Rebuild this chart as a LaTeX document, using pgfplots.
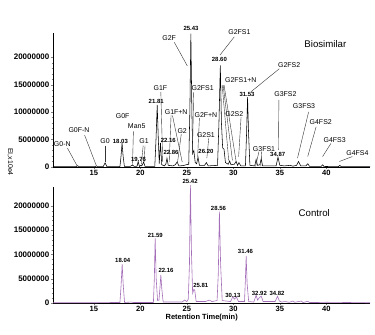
\documentclass[border=0pt]{standalone}
\usepackage{pgfplots}
\pgfplotsset{compat=1.18}
\usepackage{fontspec}
\setmainfont{Liberation Sans}
\definecolor{ctrl}{RGB}{165,110,185}
\newcommand{\an}{\fontsize{7}{8}\selectfont}
\newcommand{\pk}{\fontsize{6}{7}\selectfont\bfseries}
\begin{document}
\begin{tikzpicture}[x=1bp,y=1bp]
\useasboundingbox (0,0) rectangle (375,335);
\pgfplotsset{
  chrom/.style={
    scale only axis, width=317bp, xmin=10.6, xmax=44.7,
    axis x line=bottom, axis y line=left, axis line style={-, line width=0.5pt},
    tick align=outside, major tick length=2bp, minor tick length=1.3bp,
    xtick={15,20,25,30,35,40}, minor x tick num=4,
    ytick={0,5,10,15,20}, yticklabels={0,5000000,10000000,15000000,20000000},
    minor y tick num=4,
    tick label style={font=\fontsize{8}{9}\selectfont\bfseries},
    xticklabel style={font=\fontsize{7.6}{8}\selectfont\bfseries, inner sep=0.6pt},
    /pgf/number format/assume math mode=true,
    yticklabel style={inner sep=1.5pt},
    ymin=0, clip=false,
  }
}
% ---------------- Biosimilar ----------------
\begin{axis}[chrom, at={(53bp,168bp)}, anchor=south west, height=134bp, ymax=24.4]
\addplot[black, line width=0.55pt] coordinates {
(10.6,0.05)(12.0,0.08)(13.1,0.05)(13.25,0.25)(13.4,0.05)(15.1,0.05)(15.27,0.2)(15.45,0.05)(16.0,0.05)(16.2,0.75)(16.4,0.05)(17.8,0.08)(17.92,2.0)(18.03,4.4)(18.14,2.0)(18.28,0.1)(18.9,0.1)(19.15,0.35)(19.35,0.1)(19.65,0.15)(19.76,1.0)(19.9,0.1)(20.05,0.3)(20.15,0.2)(20.35,0.9)(20.5,0.1)(21.55,0.1)(21.68,5.0)(21.81,11.3)(21.93,5.0)(22.03,0.6)(22.16,4.4)(22.3,0.4)(22.6,0.2)(22.75,0.6)(22.86,1.6)(23.0,0.3)(23.5,0.2)(23.75,0.4)(23.95,0.9)(24.15,0.2)(24.6,0.25)(24.9,0.4)(25.2,0.5)(25.32,10.0)(25.43,24.3)(25.54,10.0)(25.63,2.5)(25.75,3.0)(25.9,0.8)(26.05,0.6)(26.2,1.8)(26.35,0.3)(26.9,0.3)(27.1,0.8)(27.3,0.2)(28.3,0.3)(28.45,8.0)(28.6,18.5)(28.72,8.0)(28.85,3.5)(29.0,3.2)(29.15,0.8)(29.45,0.5)(29.6,1.1)(29.75,0.4)(30.1,0.5)(30.3,1.0)(30.45,0.3)(30.6,0.8)(30.8,0.2)(31.3,0.2)(31.42,6.0)(31.53,12.7)(31.64,6.0)(31.78,0.3)(32.3,0.2)(32.45,1.4)(32.6,0.3)(32.85,0.4)(33.0,1.5)(33.15,0.2)(34.6,0.2)(34.8,1.8)(35.0,0.3)(35.5,0.2)(36.1,0.3)(36.4,0.15)(36.8,0.3)(37.0,1.0)(37.25,0.2)(37.8,0.2)(38.0,0.6)(38.2,0.1)(39.45,0.1)(39.6,0.4)(39.75,0.1)(41.3,0.05)(41.45,0.3)(41.6,0.05)(44.7,0.05)
};
% leader lines
\begin{scope}[line width=0.4pt, black!80]
\draw (axis cs:12.15,3.45) -- (axis cs:13.2,0.2);
\draw (axis cs:14.0,5.8) -- (axis cs:15.27,0.2);
\draw (axis cs:16.2,3.9) -- (axis cs:16.2,0.9);
\draw (axis cs:19.25,6.5) -- (axis cs:19.15,0.3);
\draw (axis cs:20.3,3.9) -- (axis cs:20.1,0.5);
\draw (axis cs:20.5,3.9) -- (axis cs:20.4,0.9);
\draw (axis cs:22.2,13.7) -- (axis cs:22.4,1.0);
\draw (axis cs:23.3,9.4) -- (axis cs:23.1,0.9);
\draw (axis cs:23.45,9.4) -- (axis cs:24.5,0.9);
\draw (axis cs:24.4,6.0) -- (axis cs:24.0,0.9);
\draw (axis cs:23.65,22.7) -- (axis cs:25.05,18.4);
\draw (axis cs:25.73,13.6) -- (axis cs:25.6,2.2);
\draw (axis cs:26.35,8.9) -- (axis cs:26.16,1.9);
\draw (axis cs:27.35,5.2) -- (axis cs:27.15,1.6);
\draw (axis cs:30.1,23.7) -- (axis cs:28.57,20.4);
\draw (axis cs:28.8,14.9) -- (axis cs:29.5,1.2);
\draw (axis cs:28.9,14.9) -- (axis cs:29.9,1.2);
\draw (axis cs:29.0,14.9) -- (axis cs:30.3,1.0);
\draw (axis cs:30.83,9.1) -- (axis cs:30.57,1.9);
\draw (axis cs:34.95,17.9) -- (axis cs:31.9,13.7);
\draw (axis cs:32.75,2.8) -- (axis cs:32.4,0.1);
\draw (axis cs:33.05,2.8) -- (axis cs:32.95,0.1);
\draw (axis cs:34.9,12.2) -- (axis cs:34.85,3.1);
\draw (axis cs:38.1,10.05) -- (axis cs:36.9,1.6);
\draw (axis cs:38.9,7.3) -- (axis cs:38.0,1.9);
\draw (axis cs:40.5,4.3) -- (axis cs:39.6,1.9);
\draw (axis cs:42.8,1.9) -- (axis cs:41.4,1.0);
\end{scope}
% labels
\node[font=\an] at (axis cs:11.6,4.2) {G0-N};
\node[font=\an] at (axis cs:13.4,6.7) {G0F-N};
\node[font=\an] at (axis cs:16.2,4.7) {G0};
\node[font=\an] at (axis cs:18.1,9.3) {G0F};
\node[font=\pk] at (axis cs:17.85,4.7) {18.03};
\node[font=\an] at (axis cs:19.6,7.45) {Man5};
\node[font=\pk] at (axis cs:19.8,1.45) {19.76};
\node[font=\an] at (axis cs:20.4,4.7) {G1};
\node[font=\an] at (axis cs:22.15,14.4) {G1F};
\node[font=\pk] at (axis cs:21.7,12.0) {21.81};
\node[font=\pk] at (axis cs:23.0,4.9) {22.16};
\node[font=\pk] at (axis cs:23.3,2.7) {22.86};
\node[font=\an] at (axis cs:23.85,10.0) {G1F+N};
\node[font=\an] at (axis cs:24.5,6.5) {G2};
\node[font=\an] at (axis cs:23.1,23.5) {G2F};
\node[font=\pk] at (axis cs:25.45,25.2) {25.43};
\node[font=\an] at (axis cs:26.7,14.3) {G2FS1};
\node[font=\an] at (axis cs:27.05,9.45) {G2F+N};
\node[font=\an] at (axis cs:27.05,5.8) {G2S1};
\node[font=\pk] at (axis cs:27.05,2.8) {26.20};
\node[font=\an] at (axis cs:30.65,24.6) {G2FS1};
\node[font=\pk] at (axis cs:28.5,19.6) {28.60};
\node[font=\an] at (axis cs:30.8,15.8) {G2FS1+N};
\node[font=\an] at (axis cs:30.1,9.6) {G2S2};
\node[font=\pk] at (axis cs:31.47,13.2) {31.53};
\node[font=\an] at (axis cs:36.0,18.5) {G2FS2};
\node[font=\an] at (axis cs:33.3,3.3) {G3FS1};
\node[font=\pk] at (axis cs:34.77,2.3) {34.87};
\node[font=\an] at (axis cs:35.6,13.2) {G3FS2};
\node[font=\an] at (axis cs:37.6,11.0) {G3FS3};
\node[font=\an] at (axis cs:39.4,8.2) {G4FS2};
\node[font=\an] at (axis cs:40.9,4.9) {G4FS3};
\node[font=\an] at (axis cs:43.35,2.5) {G4FS4};
\node[font=\fontsize{9.7}{11}\selectfont] at (axis cs:39.9,22.4) {Biosimilar};
\end{axis}
% ---------------- Control ----------------
\begin{axis}[chrom, at={(53bp,32bp)}, anchor=south west, height=116bp, ymax=23.9]
\addplot[ctrl, line width=0.6pt] coordinates {
(10.6,0.05)(15.0,0.05)(17.0,0.1)(17.8,0.1)(17.92,3.5)(18.04,8.0)(18.16,3.5)(18.3,0.1)(19.0,0.2)(19.3,0.1)(20.5,0.1)(21.4,0.1)(21.5,5.0)(21.59,13.4)(21.7,5.0)(21.85,0.5)(22.0,0.6)(22.1,3.0)(22.2,5.8)(22.3,3.0)(22.45,0.2)(24.5,0.2)(24.75,0.6)(25.0,0.3)(25.15,0.8)(25.28,8.0)(25.38,24.3)(25.5,10.0)(25.62,2.0)(25.75,2.8)(25.85,2.6)(26.0,0.3)(27.0,0.3)(27.4,0.6)(27.7,0.3)(28.25,0.5)(28.38,6.0)(28.5,18.8)(28.63,8.0)(28.8,0.5)(29.7,0.3)(29.95,1.3)(30.1,0.8)(30.35,1.2)(30.55,0.3)(31.2,0.3)(31.3,5.0)(31.38,9.7)(31.48,4.0)(31.65,0.3)(32.2,0.2)(32.45,1.6)(32.6,0.6)(32.8,1.1)(33.0,1.4)(33.2,0.3)(34.5,0.3)(34.75,1.4)(34.95,0.4)(35.2,0.2)(35.6,0.3)(36.0,0.15)(36.4,0.4)(36.6,0.15)(37.3,0.4)(37.5,0.1)(38.0,0.35)(38.2,0.1)(39.0,0.1)(40.0,0.15)(44.7,0.05)
};
\node[font=\pk] at (axis cs:18.1,8.7) {18.04};
\node[font=\pk] at (axis cs:21.6,13.9) {21.59};
\node[font=\pk] at (axis cs:22.76,6.8) {22.16};
\node[font=\pk] at (axis cs:25.35,25.0) {25.42};
\node[font=\pk] at (axis cs:26.5,3.7) {25.81};
\node[font=\pk] at (axis cs:28.4,19.5) {28.56};
\node[font=\pk] at (axis cs:29.95,1.6) {30.13};
\node[font=\pk] at (axis cs:31.3,10.6) {31.46};
\node[font=\pk] at (axis cs:32.8,2.0) {32.92};
\node[font=\pk] at (axis cs:34.7,2.0) {34.82};
\node[font=\fontsize{9.7}{11}\selectfont] at (axis cs:38.7,18.5) {Control};
\end{axis}
\node[font=\fontsize{7.5}{9}\selectfont\bfseries] at (201.7,17.5) {Retention Time(min)};
\node[font=\fontsize{7}{8}\selectfont, rotate=-90] at (10,173) {EI,x10e4};
\end{tikzpicture}
\end{document}
